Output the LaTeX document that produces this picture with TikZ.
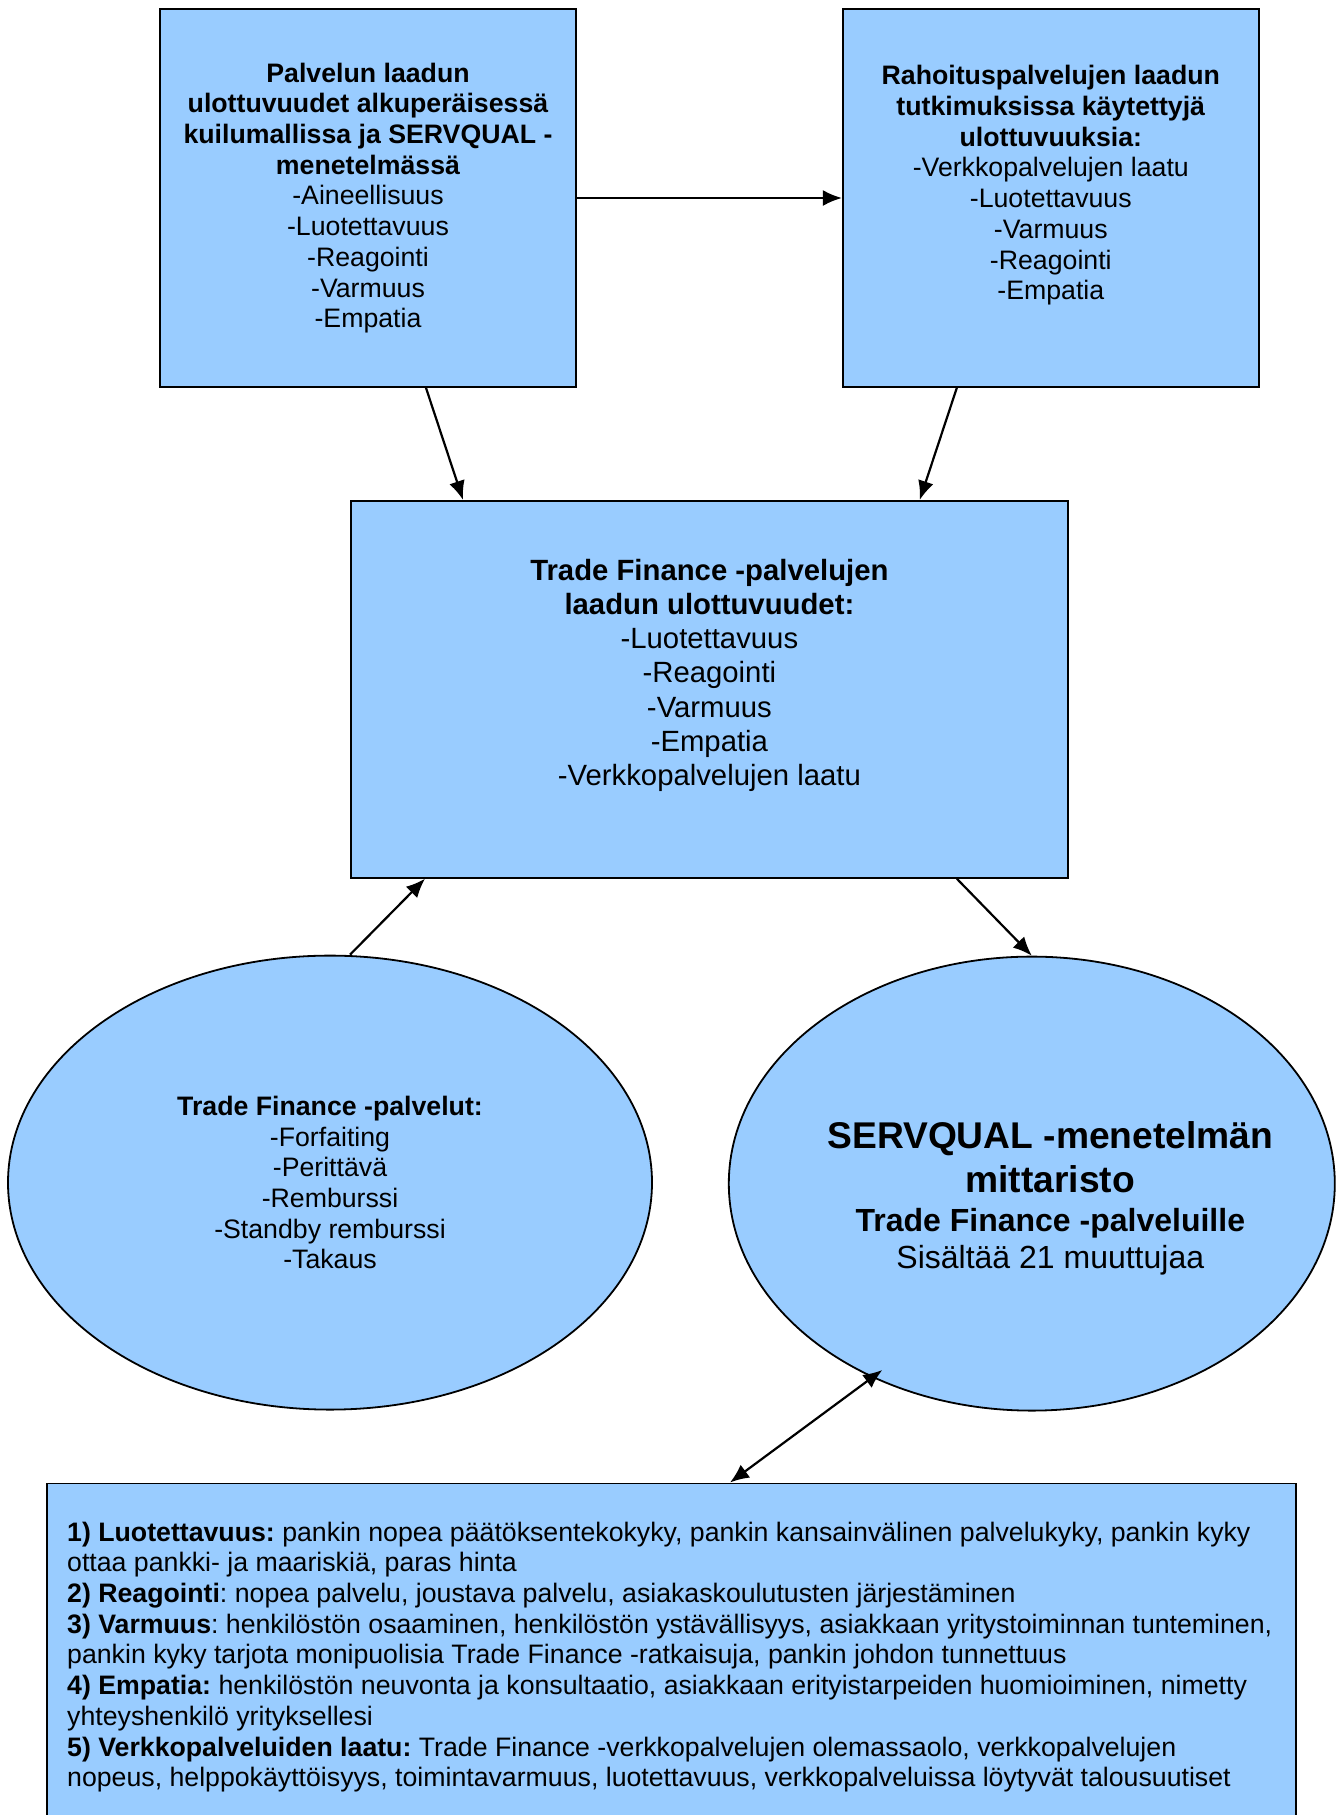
\documentclass[tikz,border=0pt]{standalone}
\usepackage{fontspec}
\setmainfont{Liberation Sans}
\usetikzlibrary{positioning, calc, shapes.geometric, arrows.meta}
\definecolor{boxblue}{HTML}{99CCFF}
\frenchspacing

\begin{document}
\begin{tikzpicture}[
    box/.style={rectangle, draw=black, line width=0.9pt, fill=boxblue,
      align=center, inner sep=0pt},
    oval/.style={ellipse, draw=black, line width=0.9pt, fill=boxblue,
      align=center, inner sep=0pt},
    small/.style={font=\fontsize{13.35pt}{15.35pt}\selectfont},
    mid/.style={font=\fontsize{14.65pt}{17.1pt}\selectfont},
    arrow/.style={-{Latex[length=9.5pt, width=8pt]}, line width=1.1pt},
    twoway/.style={{Latex[length=9.5pt, width=8pt]}-{Latex[length=9.5pt, width=8pt]}, line width=1.1pt}
  ]
    \useasboundingbox (0,0) rectangle (669pt,-907.5pt);

    \node[box, small, minimum width=208pt, minimum height=189pt] (orig) at (184pt,-99pt)
      {\textbf{Palvelun laadun}\\ \textbf{ulottuvuudet alkuperäisessä}\\
       \textbf{kuilumallissa ja SERVQUAL -}\\ \textbf{menetelmässä}\\
       -Aineellisuus\\ -Luotettavuus\\ -Reagointi\\ -Varmuus\\ -Empatia};
    \node[box, small, minimum width=208pt, minimum height=189pt, right=132.5pt of orig] (fin)
      {\textbf{Rahoituspalvelujen laadun}\\ \textbf{tutkimuksissa käytettyjä}\\
       \textbf{ulottuvuuksia:}\\ -Verkkopalvelujen laatu\\ -Luotettavuus\\
       -Varmuus\\ -Reagointi\\ -Empatia\\ \mbox{}};
    \coordinate (topmid) at ($(orig.south)!0.5!(fin.south)$);
    \node[box, mid, minimum width=358.5pt, minimum height=188.5pt, below=56pt of topmid] (tfdim)
      {\textbf{Trade Finance -palvelujen}\\ \textbf{laadun ulottuvuudet:}\\
       -Luotettavuus\\ -Reagointi\\ -Varmuus\\ -Empatia\\ -Verkkopalvelujen laatu\\ \mbox{}};
    \node[oval, small, minimum width=322pt, minimum height=227pt,
      below=38pt of tfdim.south west, xshift=-10pt] (tfs)
      {\textbf{Trade Finance -palvelut:}\\ -Forfaiting\\ -Perittävä\\ -Remburssi\\
       -Standby remburssi\\ -Takaus};
    \node[oval, minimum width=303pt, minimum height=227pt,
      below=38.5pt of tfdim.south east, xshift=-18.5pt] (servq) {};
    \node[align=center, inner sep=0pt, font=\fontsize{16pt}{18.5pt}\selectfont]
      (servqtxt) at ([xshift=9.25pt, yshift=-7.5pt]servq.center)
      {{\fontsize{18.6pt}{22pt}\selectfont\textbf{SERVQUAL -menetelmän}}\\[3.5pt]
       {\fontsize{18.6pt}{22pt}\selectfont\textbf{mittaristo}}\\[1pt]
       \textbf{Trade Finance -palveluille}\\ Sisältää 21 muuttujaa};
    \node[box, minimum width=624.5pt, minimum height=173.6pt,
      below=301.9pt of tfdim.south, xshift=-19pt] (qual) {};
    \node[small, align=left, inner sep=0pt, anchor=west] (qualtxt) at ([xshift=10.4pt]qual.west)
      {\textbf{1) Luotettavuus:} pankin nopea päätöksentekokyky, pankin kansainvälinen palvelukyky, pankin kyky\\
       ottaa pankki- ja maariskiä, paras hinta\\
       \textbf{2) Reagointi}: nopea palvelu, joustava palvelu, asiakaskoulutusten järjestäminen\\
       \textbf{3) Varmuus}: henkilöstön osaaminen, henkilöstön ystävällisyys, asiakkaan yritystoiminnan tunteminen,\\
       pankin kyky tarjota monipuolisia Trade Finance -ratkaisuja, pankin johdon tunnettuus\\
       \textbf{4) Empatia:} henkilöstön neuvonta ja konsultaatio, asiakkaan erityistarpeiden huomioiminen, nimetty\\
       yhteyshenkilö yrityksellesi\\
       \textbf{5) Verkkopalveluiden laatu:} Trade Finance -verkkopalvelujen olemassaolo, verkkopalvelujen\\
       nopeus, helppokäyttöisyys, toimintavarmuus, luotettavuus, verkkopalveluissa löytyvät talousuutiset};

    \draw[arrow] (orig) -- (fin);
    \draw[arrow] ([xshift=29pt]orig.south) -- ([xshift=56.5pt]tfdim.north west);
    \draw[arrow] ([xshift=-47pt]fin.south) -- ([xshift=-74.5pt]tfdim.north east);
    \draw[arrow] ([xshift=10pt]tfs.north) -- ([xshift=37.5pt]tfdim.south west);
    \draw[arrow] ([xshift=-56pt]tfdim.south east) -- (servq.north);
    \draw[twoway] ([yshift=6pt]servq.233) -- ([xshift=342pt]qual.north west);
  \end{tikzpicture}
\end{document}
